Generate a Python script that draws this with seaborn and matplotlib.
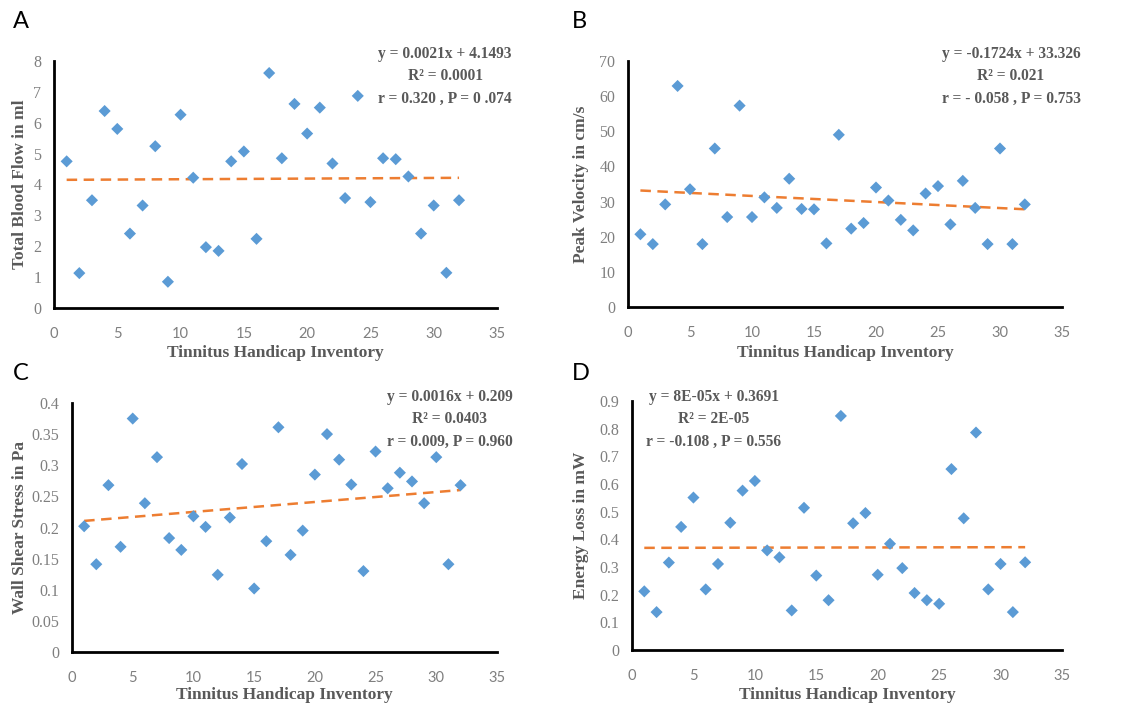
import matplotlib
matplotlib.use("Agg")
import matplotlib.pyplot as plt
import seaborn as sns
import numpy as np
import pandas as pd
from matplotlib.ticker import FuncFormatter

# ---------------- data ----------------
thi = list(range(1, 33))

blood_flow = [4.75, 1.13, 3.49, 6.38, 5.80, 2.41, 3.32, 5.24, 0.85, 6.26,
              4.22, 1.97, 1.85, 4.75, 5.07, 2.24, 7.61, 4.85, 6.61, 5.65,
              6.49, 4.68, 3.56, 6.87, 3.43, 4.85, 4.82, 4.26, 2.41, 3.32,
              1.14, 3.49]

peak_velocity = [20.7, 17.9, 29.2, 62.9, 33.5, 17.9, 45.1, 25.6, 57.3, 25.6,
                 31.2, 28.2, 36.5, 27.9, 27.8, 18.1, 49.0, 22.3, 23.9, 34.0,
                 30.3, 24.8, 21.8, 32.3, 34.4, 23.5, 35.9, 28.2, 17.9, 45.1,
                 17.9, 29.2]

wall_shear = [0.202, 0.141, 0.268, 0.169, 0.375, 0.239, 0.313, 0.183, 0.164, 0.218,
              0.201, 0.124, 0.216, 0.302, 0.102, 0.178, 0.361, 0.156, 0.195, 0.285,
              0.350, 0.309, 0.269, 0.130, 0.322, 0.263, 0.288, 0.274, 0.239, 0.313,
              0.141, 0.268]

energy_loss = [0.212, 0.137, 0.316, 0.445, 0.551, 0.219, 0.311, 0.460, 0.576, 0.611,
               0.360, 0.335, 0.143, 0.514, 0.269, 0.180, 0.846, 0.458, 0.495, 0.272,
               0.384, 0.296, 0.206, 0.180, 0.167, 0.654, 0.476, 0.786, 0.219, 0.311,
               0.137, 0.317]

# trend line coefficients (slope, intercept) as printed
slopes = [0.0021, -0.1724, 0.0016, 0.00008]
intercepts = [4.1493, 33.326, 0.209, 0.3691]
fit_x = [1, 32]

panel_letters = ["A", "B", "C", "D"]
y_labels = ["Total Blood Flow in ml", "Peak Velocity in cm/s",
            "Wall Shear Stress in Pa", "Energy Loss in mW"]
x_label = "Tinnitus Handicap Inventory"
annotations = [
    "y = 0.0021x + 4.1493\nR² = 0.0001\nr = 0.320 , P = 0 .074",
    "y = -0.1724x + 33.326\nR² = 0.021\nr = - 0.058 , P = 0.753",
    "y = 0.0016x + 0.209\nR² = 0.0403\nr = 0.009, P = 0.960",
    "y = 8E-05x + 0.3691\nR² = 2E-05\nr = -0.108 , P = 0.556",
]
y_ticks = [np.arange(0, 8.01, 1), np.arange(0, 70.1, 10),
           np.arange(0, 0.401, 0.05), np.arange(0, 0.901, 0.1)]
x_ticks = list(range(0, 36, 5))

# ---------------- style ----------------
sns.set_style("white")
plt.rcParams["font.family"] = ["Liberation Serif", "DejaVu Serif"]

W, H = 1121, 707
fig = plt.figure(figsize=(W / 100, H / 100), dpi=100)

boxes = [(54, 497, 61, 308), (628, 1062, 61, 307),
         (72, 497, 403, 652), (632, 1062, 401, 650)]
ann_pos = [(445, 55), (1011, 55), (450, 398), (714, 398)]
letter_pos = [(13, 22), (572, 22), (13, 374), (572, 374)]
xlabel_y = [353, 353, 695, 695]
ylabel_x = [20, 581, 20, 581]

series = [blood_flow, peak_velocity, wall_shear, energy_loss]

label_color = "#595959"
tick_color = "#7f7f7f"
blue = "#5B9BD5"
orange = "#ED7D31"

axes = []
for i in range(4):
    l, r, t, b = boxes[i]
    ax = fig.add_axes([l / W, (H - b) / H, (r - l) / W, (b - t) / H])
    axes.append(ax)
    df = pd.DataFrame({"x": thi, "y": series[i]})
    sns.scatterplot(data=df, x="x", y="y", marker="D", s=38, color=blue,
                    edgecolor="none", ax=ax, zorder=3)
    fit_df = pd.DataFrame({"x": fit_x,
                           "y": [slopes[i] * v + intercepts[i] for v in fit_x]})
    sns.lineplot(data=fit_df, x="x", y="y", color=orange, lw=1.8,
                 linestyle=(0, (4.2, 2.6)), ax=ax, zorder=2)

    ax.set_xlim(0, 35)
    ax.set_ylim(y_ticks[i][0], y_ticks[i][-1])
    ax.set_xticks(x_ticks)
    ax.set_yticks(y_ticks[i])
    ax.yaxis.set_major_formatter(FuncFormatter(lambda v, p: f"{round(v, 3):g}"))
    ax.tick_params(axis="both", length=0, labelcolor=tick_color)
    ax.tick_params(axis="x", pad=14, labelsize=10.5)
    ax.tick_params(axis="y", pad=9, labelsize=11.5)

    for s in ["top", "right"]:
        ax.spines[s].set_visible(False)
    for s in ["left", "bottom"]:
        ax.spines[s].set_color("black")
        ax.spines[s].set_linewidth(2)
    ax.grid(False)
    ax.set_xlabel("")
    ax.set_ylabel("")

    fig.text(((l + r) / 2) / W, 1 - xlabel_y[i] / H, x_label,
             ha="center", va="center", fontsize=12.5, fontweight="bold",
             color=label_color)
    fig.text(ylabel_x[i] / W, 1 - ((t + b) / 2) / H, y_labels[i],
             ha="center", va="center", rotation=90, fontsize=12.5,
             fontweight="bold", color=label_color)

    ax_, ay_ = ann_pos[i]
    fig.text(ax_ / W, 1 - (ay_ - 9) / H, annotations[i], ha="center", va="top",
             multialignment="center", fontsize=11.2, fontweight="bold",
             color=label_color, linespacing=1.52)

    lx, ly = letter_pos[i]
    fig.text(lx / W, 1 - ly / H, panel_letters[i], ha="left", va="center",
             fontsize=17, family=["Lato", "DejaVu Sans"], color="black")

fig.canvas.draw()
for ax in axes:
    for lab in ax.get_xticklabels():
        lab.set_fontfamily(["Lato", "DejaVu Sans"])
    for lab in ax.get_yticklabels():
        lab.set_fontfamily(["Liberation Serif", "DejaVu Serif"])

fig.savefig("out.png", dpi=100)
